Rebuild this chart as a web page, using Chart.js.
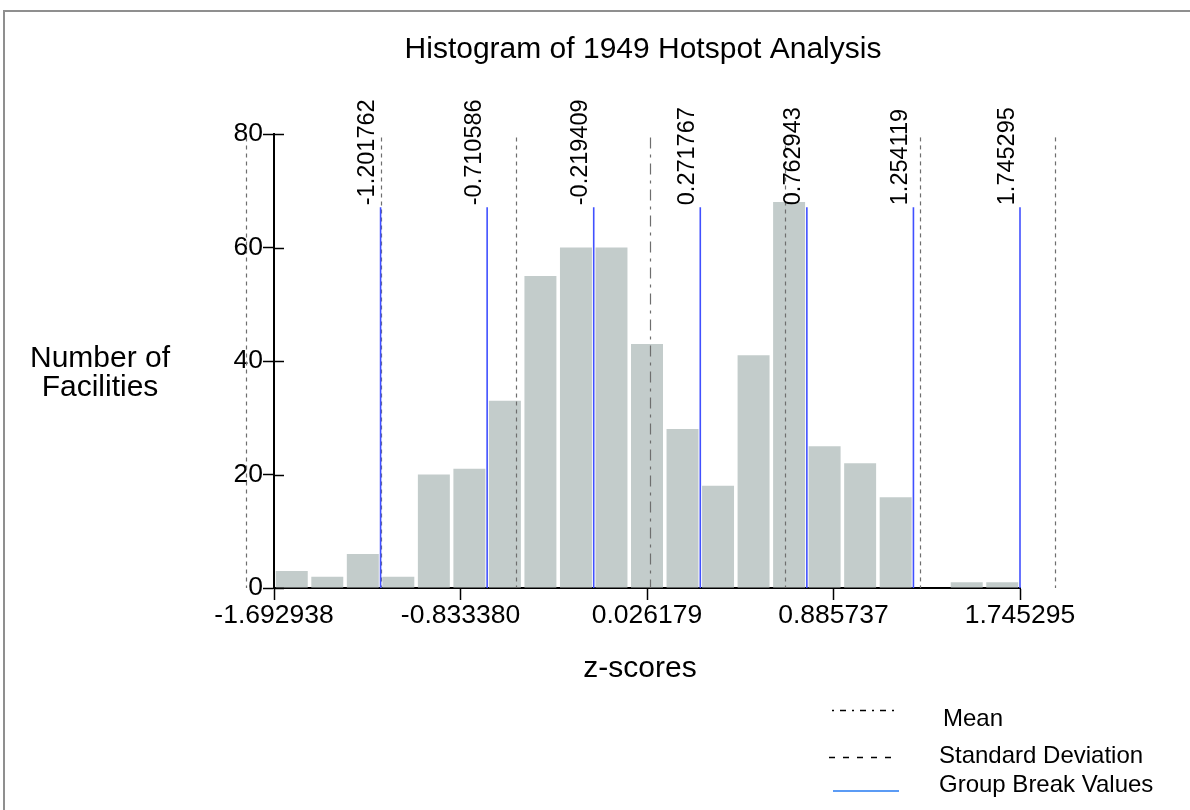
<!DOCTYPE html>
<html>
<head>
<meta charset="utf-8">
<script src="https://cdn.jsdelivr.net/npm/chart.js@4/dist/chart.umd.min.js"></script>
<style>
  html, body { margin: 0; padding: 0; background: #fff; }
  #wrap { width: 1190px; height: 810px; position: relative; }
</style>
</head>
<body>
<div id="wrap"><canvas id="c"></canvas></div>
<script>
// ---- data ----
const titleText = "Histogram of 1949 Hotspot Analysis";
const xAxisTitle = "z-scores";
const yAxisTitle = ["Number of", "Facilities"];
const binCenters = [-1.611075, -1.447350, -1.283624, -1.119899, -0.956173, -0.792448, -0.628723,
                    -0.464997, -0.301272, -0.137546, 0.026179, 0.189905, 0.353630, 0.517356,
                    0.681081, 0.844806, 1.008532, 1.172257, 1.335983, 1.499708, 1.663433];
const counts = [3, 2, 6, 2, 20, 21, 33, 55, 60, 60, 43, 28, 18, 41, 68, 25, 22, 16, 0, 1, 1];
const xTickValues = [-1.692938, -0.833380, 0.026179, 0.885737, 1.745295];
const groupBreaks = [-1.201762, -0.710586, -0.219409, 0.271767, 0.762943, 1.254119, 1.745295];
const meanValue = 0.0416;
const stdLines = [-1.8233, -1.2014, -0.5780, 0.6613, 1.2832, 1.9065];
const stdLineTop = 79.4;
const breakLineTop = 67.1;
const legendLabels = ["Mean", "Standard Deviation", "Group Break Values"];

const FONT = "'Liberation Sans', Arial, sans-serif";

const overlay = {
  id: 'overlay',
  beforeDraw(chart) {
    const ctx = chart.ctx;
    ctx.save();
    ctx.strokeStyle = '#8f8f8f';
    ctx.lineWidth = 2;
    ctx.beginPath();
    ctx.moveTo(4, 810); ctx.lineTo(4, 11); ctx.lineTo(1190, 11);
    ctx.stroke();
    ctx.restore();
  },
  afterDatasetsDraw(chart) {
    const ctx = chart.ctx;
    const xs = chart.scales.x, ys = chart.scales.y;
    const y0 = ys.getPixelForValue(0);
    ctx.save();
    // std lines
    ctx.strokeStyle = '#6e6e6e';
    ctx.lineWidth = 1.2;
    ctx.setLineDash([4, 4]);
    stdLines.forEach(v => {
      const px = Math.round(xs.getPixelForValue(v)) + 0.5;
      ctx.beginPath();
      ctx.moveTo(px, ys.getPixelForValue(stdLineTop));
      ctx.lineTo(px, y0);
      ctx.stroke();
    });
    // mean line
    ctx.setLineDash([11, 6, 3, 6]);
    const mpx = Math.round(xs.getPixelForValue(meanValue)) + 0.5;
    ctx.beginPath();
    ctx.moveTo(mpx, ys.getPixelForValue(stdLineTop));
    ctx.lineTo(mpx, y0);
    ctx.stroke();
    // group break lines
    ctx.setLineDash([]);
    ctx.strokeStyle = '#4050ff';
    ctx.lineWidth = 1.6;
    const btop = ys.getPixelForValue(breakLineTop);
    groupBreaks.forEach(v => {
      const px = xs.getPixelForValue(v);
      ctx.beginPath();
      ctx.moveTo(px, btop);
      ctx.lineTo(px, y0);
      ctx.stroke();
    });
    // rotated labels
    ctx.fillStyle = '#000';
    ctx.font = '23.5px ' + FONT;
    ctx.textAlign = 'left';
    ctx.textBaseline = 'alphabetic';
    groupBreaks.forEach(v => {
      const px = xs.getPixelForValue(v);
      ctx.save();
      ctx.translate(px - 6.5, btop - 2);
      ctx.rotate(-Math.PI / 2);
      ctx.fillText(v.toFixed(6), 0, 0);
      ctx.restore();
    });
    // inner part of y tick marks
    ctx.strokeStyle = '#000';
    ctx.lineWidth = 1.5;
    ys.ticks.forEach(t => {
      const py = Math.round(ys.getPixelForValue(t.value)) + 0.5;
      ctx.beginPath();
      ctx.moveTo(xs.left, py);
      ctx.lineTo(xs.left + 10, py);
      ctx.stroke();
    });
    ctx.restore();
  },
  afterDraw(chart) {
    const ctx = chart.ctx;
    ctx.save();
    ctx.fillStyle = '#000';
    ctx.textBaseline = 'alphabetic';
    // title
    ctx.font = '30px ' + FONT;
    ctx.textAlign = 'center';
    ctx.fillText(titleText, 643, 58);
    // axis titles
    ctx.font = '30px ' + FONT;
    ctx.fillText(xAxisTitle, 640, 677);
    ctx.fillText(yAxisTitle[0], 100, 367);
    ctx.fillText(yAxisTitle[1], 100, 396);
    // legend
    ctx.font = '24px ' + FONT;
    ctx.textAlign = 'left';
    ctx.fillText(legendLabels[0], 943, 726);
    ctx.fillText(legendLabels[1], 939, 763);
    ctx.fillText(legendLabels[2], 939, 792);
    ctx.strokeStyle = '#000';
    ctx.lineWidth = 1.3;
    ctx.setLineDash([2, 6, 6, 6]);
    ctx.beginPath(); ctx.moveTo(832, 710.5); ctx.lineTo(896, 710.5); ctx.stroke();
    ctx.setLineDash([6, 8]);
    ctx.beginPath(); ctx.moveTo(829, 757.5); ctx.lineTo(898, 757.5); ctx.stroke();
    ctx.setLineDash([]);
    ctx.strokeStyle = '#5b9bf5';
    ctx.lineWidth = 2;
    ctx.beginPath(); ctx.moveTo(833, 791); ctx.lineTo(899, 791); ctx.stroke();
    ctx.restore();
  }
};

new Chart(document.getElementById('c'), {
  type: 'bar',
  data: {
    datasets: [{
      data: binCenters.map((x, i) => ({ x: x, y: counts[i] })),
      backgroundColor: '#c3cccb',
      borderWidth: 0,
      barPercentage: 1,
      categoryPercentage: 0.9
    }]
  },
  options: {
    responsive: true,
    maintainAspectRatio: false,
    animation: false,
    layout: { padding: { left: 0, top: 134, right: 170, bottom: 0 } },
    plugins: { legend: { display: false }, tooltip: { enabled: false }, title: { display: false } },
    scales: {
      x: {
        type: 'linear',
        min: xTickValues[0],
        max: xTickValues[xTickValues.length - 1],
        offset: false,
        afterBuildTicks: (scale) => { scale.ticks = xTickValues.map(v => ({ value: v })); },
        afterFit: (scale) => { scale.height = 222; },
        grid: { display: true, drawOnChartArea: false, drawTicks: true, tickLength: 12, tickColor: '#000', tickWidth: 1.5, offset: false },
        border: { display: true, color: '#000', width: 2 },
        ticks: {
          autoSkip: false, maxRotation: 0, minRotation: 0, padding: 0, color: '#000',
          font: { family: FONT, size: 26.5 },
          callback: (v) => Number(v).toFixed(6)
        }
      },
      y: {
        min: 0, max: 80,
        afterFit: (scale) => { scale.width = 274; },
        grid: { display: true, drawOnChartArea: false, drawTicks: true, tickLength: 11, tickColor: '#000', tickWidth: 1.5 },
        border: { display: true, color: '#000', width: 2 },
        ticks: { stepSize: 20, padding: 0, color: '#000', font: { family: FONT, size: 26.5 } }
      }
    }
  },
  plugins: [overlay]
});
</script>
</body>
</html>
